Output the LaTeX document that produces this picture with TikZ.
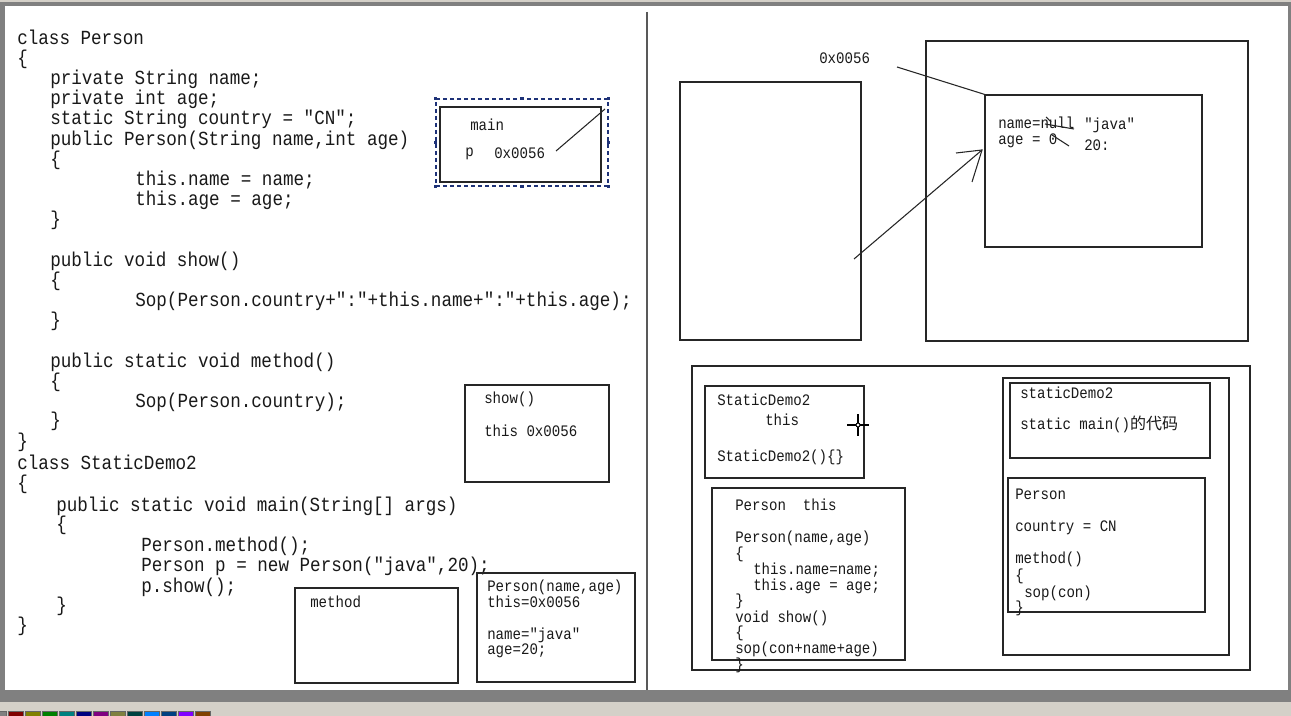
\documentclass[tikz,border=0pt]{standalone}
\usepackage{fontspec}
\usepackage{tikz}
\usetikzlibrary{positioning, fit}
\newfontfamily\codefont{Liberation Mono}[FakeStretch=0.88]
\newfontfamily\cjkfont{Noto Sans CJK SC}
\definecolor{framegray}{RGB}{128,128,128}
\definecolor{barbeige}{RGB}{212,208,200}
\definecolor{selblue}{RGB}{30,50,120}
\definecolor{pal0}{RGB}{128,128,128}
\definecolor{pal1}{RGB}{128,0,0}
\definecolor{pal2}{RGB}{128,128,0}
\definecolor{pal3}{RGB}{0,128,0}
\definecolor{pal4}{RGB}{0,128,128}
\definecolor{pal5}{RGB}{0,0,128}
\definecolor{pal6}{RGB}{128,0,128}
\definecolor{pal7}{RGB}{128,128,64}
\definecolor{pal8}{RGB}{0,64,64}
\definecolor{pal9}{RGB}{0,128,255}
\definecolor{pal10}{RGB}{0,64,128}
\definecolor{pal11}{RGB}{128,0,255}
\definecolor{pal12}{RGB}{128,64,0}

\begin{document}
\begin{tikzpicture}[
    x=0.75pt, y=-0.75pt,
    box/.style={draw=black!85, line width=1pt, inner sep=0pt},
    sel/.style={draw=selblue, line width=0.8pt, dash pattern=on 3pt off 2.25pt, inner sep=0pt},
    code/.style={font=\codefont\fontsize{15}{18}\selectfont, text=black!90, anchor=west, inner sep=0pt, text height=9.9pt, text depth=0pt},
    note/.style={font=\codefont\fontsize{12}{14}\selectfont, text=black!90, anchor=west, inner sep=0pt, text height=7.9pt, text depth=0pt},
    link/.style={draw=black!85, line width=0.8pt}
]
    % Window frame
    \useasboundingbox (0,0) rectangle (1291,716);
    \fill[barbeige] (0,0) rectangle (1291,716);
    \fill[framegray] (0,2) rectangle (1291,702);
    \fill[white] (5,6) rectangle (1288,690);
    \foreach \i in {0,...,12}
        \fill[pal\i, draw=black!60, line width=0.5pt] ({17*\i-9},711) rectangle ({17*\i+6},717);
    \draw[black!65, line width=1.5pt] (647,12) -- (647,690);

    % Code: class Person
    \node[code] (cl1) at (17,38) {class Person};
    \node[code] (cl2) at (17,58) {\{};
    \node[code] (cl3) at (50,78) {private String name;};
    \node[code] (cl4) at (50,98) {private int age;};
    \node[code] (cl5) at (50,118) {static String country = "CN";};
    \node[code] (cl6) at (50,139) {public Person(String name,int age)};
    \node[code] (cl7) at (50,159) {\{};
    \node[code] (cl8) at (135,179) {this.name = name;};
    \node[code] (cl9) at (135,199) {this.age = age;};
    \node[code] (cl10) at (50,219) {\}};
    \node[code] (cl11) at (50,260) {public void show()};
    \node[code] (cl12) at (50,280) {\{};
    \node[code] (cl13) at (135,300) {Sop(Person.country+":"+this.name+":"+this.age);};
    \node[code] (cl14) at (50,320) {\}};
    \node[code] (cl15) at (50,361) {public static void method()};
    \node[code] (cl16) at (50,381) {\{};
    \node[code] (cl17) at (135,401) {Sop(Person.country);};
    \node[code] (cl18) at (50,420) {\}};
    \node[code] (cl19) at (17,441) {\}};
    % Code: class StaticDemo2
    \node[code] (cl20) at (17,463) {class StaticDemo2};
    \node[code] (cl21) at (17,483) {\{};
    \node[code] (cl22) at (56,505) {public static void main(String[] args)};
    \node[code] (cl23) at (56,524) {\{};
    \node[code] (cl24) at (141,545) {Person.method();};
    \node[code] (cl25) at (141,565) {Person p = new Person("java",20);};
    \node[code] (cl26) at (141,586) {p.show();};
    \node[code] (cl27) at (56,605) {\}};
    \node[code] (cl28) at (17,625) {\}};

    % Stack frames (left)
    \node[sel, fit={(436,99) (608,186)}] (mainsel) {};
    \foreach \p in {north west, north, north east, east, south east, south, south west, west}
        \fill[selblue] (mainsel.\p) ++(-1.8,-1.8) rectangle ++(3.6,3.6);
    \node[box, fit={(440,107) (601,182)}] (mainbox) {};
    \node[note] (mainlbl) at (470,125) {main};
    \node[note] (pvar) at (465,151) {p};
    \node[note] (pval) at (494,153) {0x0056};
    \coordinate (pref) at (556,151);
    \coordinate (pend) at (605,109);
    \draw[link] (pref) -- (pend);

    \node[box, fit={(465,385) (609,482)}] (showbox) {};
    \node[note] (show1) at (484,398) {show()};
    \node[note] (show2) at (484,431) {this 0x0056};

    \node[box, fit={(295,588) (458,683)}] (methodbox) {};
    \node[note] (method1) at (310,602) {method};

    \node[box, fit={(477,573) (635,682)}] (ctorbox) {};
    \node[note] (ctor1) at (487,586) {Person(name,age)};
    \node[note] (ctor2) at (487,602) {this=0x0056};
    \node[note] (ctor3) at (487,634) {name="java"};
    \node[note] (ctor4) at (487,649) {age=20;};

    % Stack and heap (right top)
    \node[box, fit={(680,82) (861,340)}] (stack) {};
    \node[box, fit={(926,41) (1248,341)}] (heap) {};
    \node[box, fit={(985,95) (1202,247)}] (obj) {};
    \node[note] (addr) at (819,58) {0x0056};
    \coordinate (addrline) at (897,67);
    \draw[link] (addrline) -- (obj.north west);
    \node[note] (objname) at (998,123) {name=null};
    \node[note] (objjava) at (1084,124) {"java"};
    \node[note] (objage) at (998,139) {age = 0};
    \node[note] (objtwenty) at (1084,145) {20:};
    \draw[link] (1045,124) -- (1074,129);
    \draw[link] (1046,117) -- (1051,122);
    \draw[link] (1052,135) -- (1069,146);
    \coordinate (ptr) at (854,259);
    \coordinate (tip) at (982,150);
    \coordinate (barbA) at (956,153);
    \coordinate (barbB) at (972,182);
    \draw[link] (ptr) -- (tip);
    \draw[link] (barbA) -- (tip) -- (barbB);

    % Method area (right bottom)
    \node[box, fit={(692,366) (1250,670)}] (area) {};
    \node[box, fit={(705,386) (864,478)}] (sdframe) {};
    \node[note] (sd1) at (717,400) {StaticDemo2};
    \node[note] (sd2) at (765,420) {this};
    \node[note] (sd3) at (717,456) {StaticDemo2()\{\}};
    \draw[black, line width=0.9pt] (847,425) -- (869,425) (858,414) -- (858,436);
    \draw[black, fill=white, line width=0.7pt] (858,425) circle (2);

    \node[box, fit={(712,488) (905,660)}] (pframe) {};
    \node[note] (pf1) at (735,505) {Person\ \ this};
    \node[note] (pf2) at (735,537) {Person(name,age)};
    \node[note] (pf3) at (735,553) {\{};
    \node[note] (pf4) at (753,569) {this.name=name;};
    \node[note] (pf5) at (753,585) {this.age = age;};
    \node[note] (pf6) at (735,600) {\}};
    \node[note] (pf7) at (735,617) {void show()};
    \node[note] (pf8) at (735,632) {\{};
    \node[note] (pf9) at (735,648) {sop(con+name+age)};
    \node[note] (pf10) at (735,664) {\}};

    \node[box, fit={(1003,378) (1229,655)}] (marea) {};
    \node[box, fit={(1010,383) (1210,458)}] (sdcode) {};
    \node[note] (sc1) at (1020,393) {staticDemo2};
    \node[note] (sc2) at (1020,424) {static main(){\cjkfont 的代码}};
    \node[box, fit={(1008,478) (1205,612)}] (pcode) {};
    \node[note] (pc1) at (1015,494) {Person};
    \node[note] (pc2) at (1015,526) {country = CN};
    \node[note] (pc3) at (1015,558) {method()};
    \node[note] (pc4) at (1015,575) {\{};
    \node[note] (pc5) at (1024,592) {sop(con)};
    \node[note] (pc6) at (1015,607) {\}};
\end{tikzpicture}
\end{document}
